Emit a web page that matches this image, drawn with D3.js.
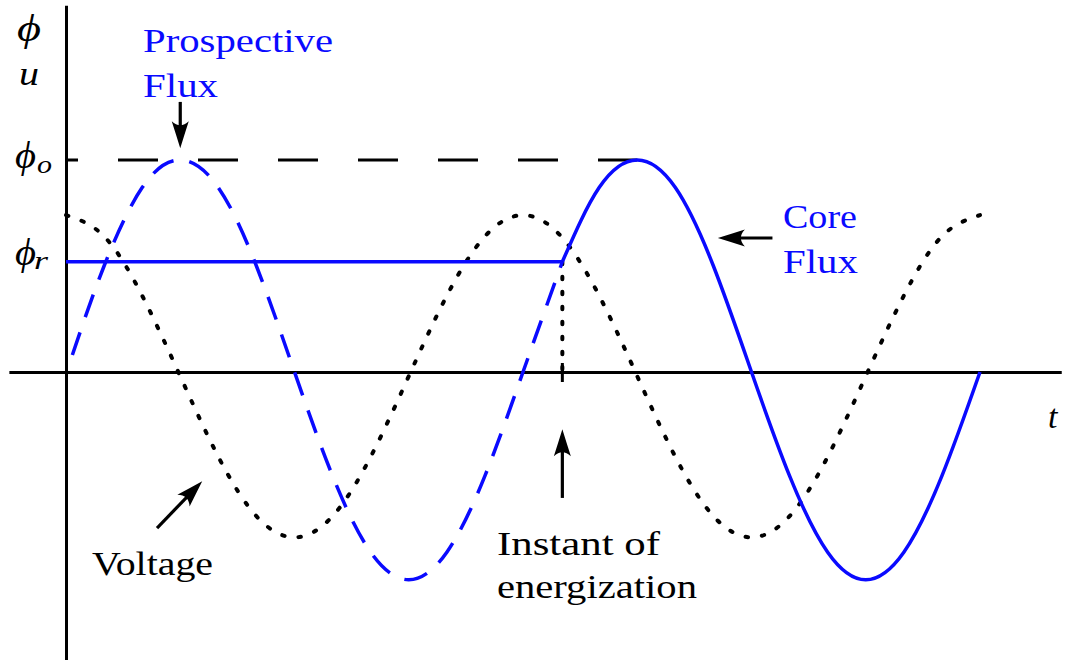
<!DOCTYPE html>
<html>
<head>
<meta charset="utf-8">
<script src="https://cdn.jsdelivr.net/npm/d3@7"></script>
<style>
  html, body { margin: 0; padding: 0; background: #fff; }
  svg { display: block; }
</style>
</head>
<body>
<svg id="chart" width="1070" height="660"></svg>
<script>
// Electrical angle (degrees) of each sample and the per-unit values read at those angles.
const prospectiveAngle = [5, 30, 60, 90, 120, 150, 180, 210, 240, 270, 300, 330, 360, 391];
const prospectiveFlux  = [0.08, 0.5, 0.87, 1, 0.87, 0.5, 0, -0.49, -0.85, -0.98, -0.85, -0.49, 0, 0.52];

const coreAngle = [391, 420, 450, 480, 510, 540, 570, 600, 630, 660, 690, 720];
const coreFlux  = [0.52, 0.87, 1, 0.87, 0.5, 0, -0.49, -0.85, -0.98, -0.85, -0.49, 0];

const voltageAngle = [0, 30, 60, 90, 120, 150, 180, 210, 240, 270, 300, 330, 360,
                      390, 420, 450, 480, 510, 540, 570, 600, 630, 660, 690, 720];
const voltage      = [0.74, 0.64, 0.36, -0.02, -0.40, -0.68, -0.78, -0.68, -0.40, -0.02, 0.36, 0.64, 0.74,
                      0.64, 0.36, -0.02, -0.40, -0.68, -0.78, -0.68, -0.40, -0.02, 0.36, 0.64, 0.74];

const peakFlux = 1;          // phi_o
const residualFlux = 0.52;   // phi_r
const energizeAngle = 391;   // instant of energization
const peakAngle = 450;       // core flux reaches phi_o

// Extent of the drawn axes, in the same units
const angleAxis = [-45, 784];
const valueAxis = [-1.36, 1.73];

const FONT = "'Liberation Serif', 'Times New Roman', serif";

const svg = d3.select("#chart");
const x = d3.scaleLinear().domain([0, 720]).range([66, 980]);
const y = d3.scaleLinear().domain([0, 1]).range([372, 160]);

const BLUE = "#0a0aff";
const INK = "#000";

// ---- axes (bare lines, no ticks) ----
const xAxisScale = x.copy().domain(angleAxis).range(angleAxis.map(x));
const yAxisScale = y.copy().domain(valueAxis).range(valueAxis.map(y));

svg.append("g")
  .attr("transform", `translate(0,${y(0)})`)
  .call(d3.axisBottom(xAxisScale).tickValues([]).tickSizeOuter(0))
  .call(g => g.select(".domain").attr("stroke", INK).attr("stroke-width", 3));

svg.append("g")
  .attr("transform", `translate(${x(0)},0)`)
  .call(d3.axisLeft(yAxisScale).tickValues([]).tickSizeOuter(0))
  .call(g => g.select(".domain").attr("stroke", INK).attr("stroke-width", 3));

const zip = (a, b) => a.map((d, i) => [d, b[i]]);
const line = d3.line().x(d => x(d[0])).y(d => y(d[1])).curve(d3.curveNatural);

// ---- phi_o reference (long dashes) ----
svg.append("line")
  .attr("x1", x(0)).attr("x2", x(peakAngle))
  .attr("y1", y(peakFlux)).attr("y2", y(peakFlux))
  .attr("stroke", INK).attr("stroke-width", 3)
  .attr("stroke-dasharray", "40 40").attr("stroke-dashoffset", 28);

// ---- voltage (dotted) ----
svg.append("path")
  .datum(zip(voltageAngle, voltage))
  .attr("d", line)
  .attr("fill", "none").attr("stroke", INK).attr("stroke-width", 4)
  .attr("stroke-linecap", "round").attr("stroke-dasharray", "2.5 14");

// ---- dotted marker at the energization instant ----
svg.append("line")
  .attr("x1", x(energizeAngle)).attr("x2", x(energizeAngle))
  .attr("y1", y(residualFlux)).attr("y2", y(0))
  .attr("stroke", INK).attr("stroke-width", 4)
  .attr("stroke-linecap", "round").attr("stroke-dasharray", "2.5 12.5");
svg.append("line")
  .attr("x1", x(energizeAngle)).attr("x2", x(energizeAngle))
  .attr("y1", y(0) - 9).attr("y2", y(0) + 10)
  .attr("stroke", INK).attr("stroke-width", 3);

// ---- prospective flux (blue dashed) ----
svg.append("path")
  .datum(zip(prospectiveAngle, prospectiveFlux))
  .attr("d", line)
  .attr("fill", "none").attr("stroke", BLUE).attr("stroke-width", 3.5)
  .attr("stroke-dasharray", "24 16");

// ---- core flux (blue solid): held at phi_r, then follows the sinusoid ----
svg.append("path")
  .datum([[0, residualFlux], [energizeAngle, residualFlux]])
  .attr("d", d3.line().x(d => x(d[0])).y(d => y(d[1])))
  .attr("fill", "none").attr("stroke", BLUE).attr("stroke-width", 3.5);
svg.append("path")
  .datum(zip(coreAngle, coreFlux))
  .attr("d", line)
  .attr("fill", "none").attr("stroke", BLUE).attr("stroke-width", 3.5);

// ---- annotation arrows ----
function arrow(from, to) {
  const x1 = x(from[0]), y1 = y(from[1]), x2 = x(to[0]), y2 = y(to[1]);
  const ang = Math.atan2(y2 - y1, x2 - x1);
  const L = 27, W = 17, notch = 19;
  const g = svg.append("g");
  g.append("line")
    .attr("x1", x1).attr("y1", y1)
    .attr("x2", x2 - notch * Math.cos(ang)).attr("y2", y2 - notch * Math.sin(ang))
    .attr("stroke", INK).attr("stroke-width", 3.2);
  g.append("path")
    .attr("d", `M0,0 Q${-L * 0.45},${-W * 0.22} ${-L},${-W / 2} Q${-notch},0 ${-L},${W / 2} Q${-L * 0.45},${W * 0.22} 0,0Z`)
    .attr("transform", `translate(${x2},${y2}) rotate(${ang * 180 / Math.PI})`)
    .attr("fill", INK);
}
arrow([90, 1.274], [90, 1.055]);            // to prospective flux peak
arrow([556.5, 0.632], [513.5, 0.632]);      // to core flux
arrow([energizeAngle, -0.594], [energizeAngle, -0.27]); // energization instant
arrow([71.7, -0.736], [107.3, -0.515]);     // to voltage

// ---- labels ----
function label(txt, at, opts = {}) {
  const t = svg.append("text")
    .attr("x", x(at[0])).attr("y", y(at[1]))
    .attr("font-family", FONT)
    .attr("font-size", opts.size || 34)
    .attr("fill", opts.color || INK)
    .attr("font-style", opts.italic ? "italic" : null)
    .text(txt);
  if (opts.width) t.attr("textLength", opts.width).attr("lengthAdjust", "spacingAndGlyphs");
  return t;
}

// axis symbols
label("\u03D5", [-38.6, 1.56], { italic: true, size: 38, width: 24 });
label("u", [-37.0, 1.354], { italic: true, size: 34, width: 20 });
label("t", [773.6, -0.264], { italic: true, size: 34 });

// phi_o and phi_r
label("\u03D5", [-40.2, 0.96], { italic: true, size: 38, width: 21 });
label("o", [-22.8, 0.94], { italic: true, size: 26, width: 15 });
label("\u03D5", [-40.2, 0.505], { italic: true, size: 38, width: 21 });
label("r", [-25.2, 0.487], { italic: true, size: 26, width: 14 });

// curve names
label("Prospective", [60.7, 1.509], { color: BLUE, width: 190 });
label("Flux", [60.7, 1.297], { color: BLUE, width: 75 });
label("Core", [564.8, 0.679], { color: BLUE, width: 74 });
label("Flux", [564.8, 0.467], { color: BLUE, width: 75 });
label("Voltage", [20.5, -0.958], { width: 121 });
label("Instant of", [339.5, -0.863], { width: 163 });
label("energization", [339.5, -1.066], { width: 200 });
</script>
</body>
</html>
